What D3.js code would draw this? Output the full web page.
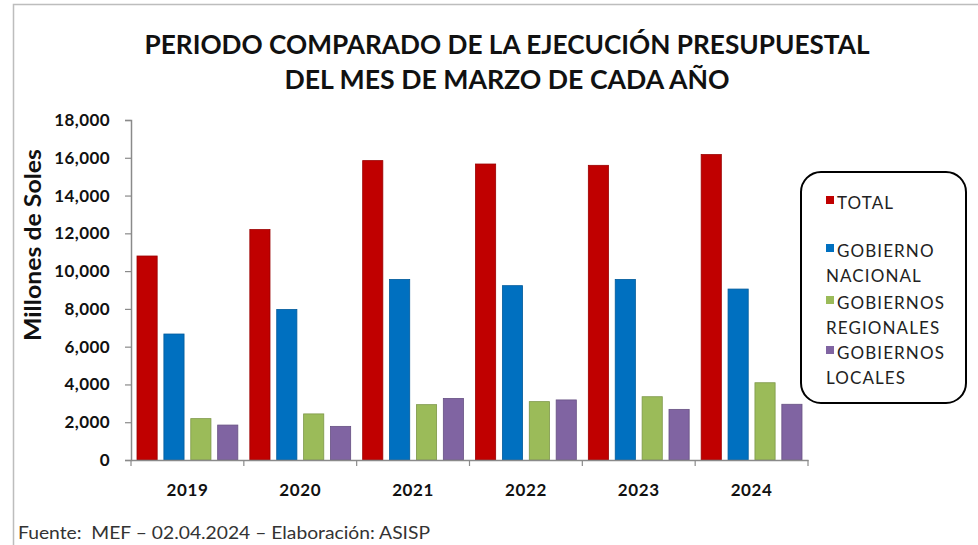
<!DOCTYPE html>
<html lang="es">
<head>
<meta charset="utf-8">
<title>Periodo comparado de la ejecución presupuestal</title>
<script src="https://d3js.org/d3.v7.min.js"></script>
<style>
  body { margin: 0; background: #fff; }
  svg { display: block; font-family: Lato, "Open Sans", sans-serif; }
</style>
</head>
<body>
<svg id="chart" width="978" height="545"></svg>
<script>
// data (millones de soles)
var years = ["2019", "2020", "2021", "2022", "2023", "2024"];
var seriesNames = ["TOTAL", "GOBIERNO NACIONAL", "GOBIERNOS REGIONALES", "GOBIERNOS LOCALES"];
var total      = [10800, 12200, 15850, 15670, 15600, 16170];
var nacional   = [6670, 7970, 9560, 9230, 9560, 9050];
var regionales = [2190, 2440, 2930, 3090, 3350, 4090];
var locales    = [1850, 1780, 3260, 3180, 2680, 2950];
var yTicks = [0, 2000, 4000, 6000, 8000, 10000, 12000, 14000, 16000, 18000];
var colors = ["#C00000", "#0070C0", "#9BBB59", "#8064A2"];
var legendLines = [["TOTAL"], ["GOBIERNO", "NACIONAL"], ["GOBIERNOS", "REGIONALES"], ["GOBIERNOS", "LOCALES"]];

var allSeries = [total, nacional, regionales, locales];
var rows = years.map(function(yr, i) {
  return { year: yr, values: allSeries.map(function(s, k) { return { key: seriesNames[k], value: s[i] }; }) };
});

var svg = d3.select("#chart");

// picture frame
svg.append("path")
  .attr("d", "M13.5,545 L13.5,4.5 L978,4.5")
  .attr("fill", "none").attr("stroke", "#bdbdbd").attr("stroke-width", 1.5);

// title
var title = svg.append("text")
  .attr("text-anchor", "middle")
  .attr("font-weight", "bold").attr("font-size", 27).attr("fill", "#111");
title.append("tspan").attr("x", 507).attr("y", 54)
  .attr("textLength", 725).attr("lengthAdjust", "spacingAndGlyphs")
  .text("PERIODO COMPARADO DE LA EJECUCIÓN PRESUPUESTAL");
title.append("tspan").attr("x", 507).attr("y", 89)
  .attr("textLength", 445).attr("lengthAdjust", "spacingAndGlyphs")
  .text("DEL MES DE MARZO DE CADA AÑO");

var plotLeft = 131, plotRight = 808, plotTop = 120, plotBottom = 460;

var x0 = d3.scaleBand().domain(years).range([plotLeft, plotRight]);
var x1 = d3.scaleBand().domain(seriesNames)
  .range([6, x0.bandwidth() - 6]).paddingInner(0.25);
var y = d3.scaleLinear().domain([0, 18000]).range([plotBottom, plotTop]);

// bars
var groups = svg.append("g").selectAll("g")
  .data(rows).enter().append("g")
  .attr("transform", function(d) { return "translate(" + x0(d.year) + ",0)"; });

groups.selectAll("rect")
  .data(function(d) { return d.values; })
  .enter().append("rect")
  .attr("x", function(d) { return x1(d.key); })
  .attr("y", function(d) { return y(d.value); })
  .attr("width", x1.bandwidth())
  .attr("height", function(d) { return plotBottom - y(d.value); })
  .attr("fill", function(d, i) { return colors[i]; })
  .attr("stroke", function(d, i) { return d3.color(colors[i]).darker(0.6); })
  .attr("stroke-width", 0.8);

// y axis
var yAxis = svg.append("g")
  .attr("transform", "translate(" + plotLeft + ",0)")
  .call(d3.axisLeft(y).tickValues(yTicks).tickSize(6).tickPadding(15)
    .tickFormat(d3.format(",")));
yAxis.select(".domain").attr("stroke", "#8a8a8a").attr("stroke-width", 1.5);
yAxis.selectAll(".tick line").attr("stroke", "#8a8a8a").attr("stroke-width", 1.2);
yAxis.selectAll(".tick text")
  .attr("font-family", "Lato, sans-serif").attr("font-size", 17)
  .attr("font-weight", "bold").attr("fill", "#111").attr("letter-spacing", 0.4);

// x axis
var xAxis = svg.append("g")
  .attr("transform", "translate(0," + plotBottom + ")")
  .call(d3.axisBottom(x0).tickSize(0).tickPadding(24));
xAxis.select(".domain").attr("stroke", "#8a8a8a").attr("stroke-width", 1.5);
xAxis.selectAll(".tick text")
  .attr("font-family", "Lato, sans-serif").attr("font-size", 17)
  .attr("font-weight", "bold").attr("fill", "#111").attr("letter-spacing", 0.6);
// category separators
xAxis.selectAll(".sep")
  .data(years.concat(["end"])).enter().append("line")
  .attr("x1", function(d, i) { return plotLeft + i * x0.step(); })
  .attr("x2", function(d, i) { return plotLeft + i * x0.step(); })
  .attr("y1", 0).attr("y2", 6)
  .attr("stroke", "#8a8a8a").attr("stroke-width", 1.2);

// y title
svg.append("text")
  .attr("transform", "translate(41,245) rotate(-90)")
  .attr("text-anchor", "middle")
  .attr("font-weight", "bold").attr("font-size", 22).attr("fill", "#111")
  .attr("textLength", 192).attr("lengthAdjust", "spacingAndGlyphs")
  .text("Millones de Soles");

// legend
var lg = svg.append("g");
lg.append("rect")
  .attr("x", 801).attr("y", 172).attr("width", 165).attr("height", 231)
  .attr("rx", 20).attr("ry", 20)
  .attr("fill", "#fff").attr("stroke", "#000").attr("stroke-width", 2);

var legendY = [203, 251, 303, 353];
legendLines.forEach(function(lines, i) {
  lg.append("rect")
    .attr("x", 826).attr("y", legendY[i] - 7)
    .attr("width", 8).attr("height", 8)
    .attr("fill", colors[i]);
  var t = lg.append("text")
    .attr("font-size", 17).attr("fill", "#222").attr("letter-spacing", 1.1);
  lines.forEach(function(line, j) {
    t.append("tspan").attr("x", j === 0 ? 837 : 826)
      .attr("y", legendY[i] + 6 + j * 25).text(line);
  });
});

// footer
svg.append("text")
  .attr("x", 18).attr("y", 539)
  .attr("font-size", 17).attr("fill", "#333")
  .attr("textLength", 412).attr("lengthAdjust", "spacingAndGlyphs")
  .text("Fuente:\u00a0 MEF \u2013 02.04.2024 \u2013 Elaboración: ASISP");
</script>
</body>
</html>
